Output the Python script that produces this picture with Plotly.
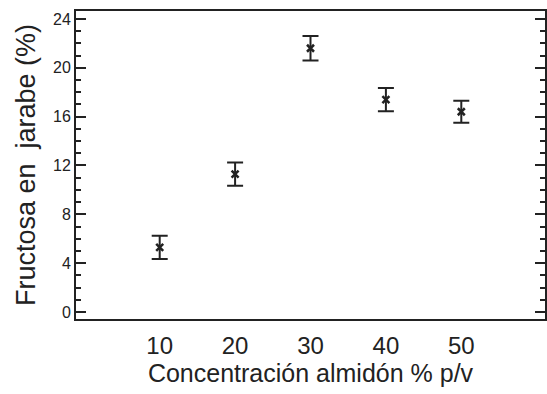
import plotly.graph_objects as go

concentracion = [10, 20, 30, 40, 50]
fructosa = [5.3, 11.3, 21.6, 17.4, 16.4]
error = [0.95, 0.95, 1.0, 0.95, 0.9]
x_ticks = [10, 20, 30, 40, 50]
y_ticks = [0, 4, 8, 12, 16, 20, 24]

font = "Liberation Sans, Arial, sans-serif"

fig = go.Figure()
fig.add_trace(go.Scatter(
    x=concentracion, y=fructosa, mode="markers",
    marker=dict(symbol="x-thin-open", size=7, color="#222",
                line=dict(width=2.5, color="#222")),
    error_y=dict(type="data", array=error, visible=True,
                 color="#222", thickness=2, width=8),
    showlegend=False,
))

fig.update_layout(
    width=547, height=394,
    margin=dict(l=76, r=0, t=11, b=75),
    paper_bgcolor="white", plot_bgcolor="white",
    font=dict(family=font, color="#222"),
    xaxis=dict(
        range=[-1.1, 61.1], tickvals=x_ticks, ticks="",
        showline=True, linecolor="#222", linewidth=2, mirror=True,
        showgrid=False, zeroline=False,
        tickfont=dict(size=24, color="#222"), ticklabelstandoff=4,
        title=dict(text="Concentración almidón % p/v", font=dict(size=25, color="#222"), standoff=6),
    ),
    yaxis=dict(
        range=[-0.57, 24.65], tickvals=y_ticks, ticks="inside", ticklen=10, tickwidth=2,
        tickcolor="#222",
        minor=dict(ticks="inside", dtick=1, ticklen=5, tickwidth=2, tickcolor="#222"),
        showline=True, linecolor="#222", linewidth=2, mirror="ticks",
        showgrid=False, zeroline=False,
        tickfont=dict(size=16, color="#222"),
        title=dict(text="Fructosa en  jarabe (%)", font=dict(size=27, color="#222"), standoff=10),
    ),
)

fig.write_html("out.html")
